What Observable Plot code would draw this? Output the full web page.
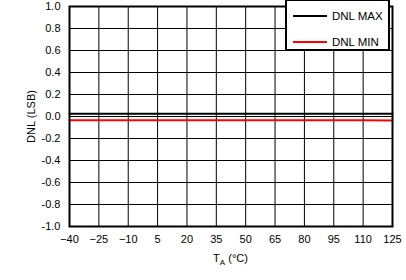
<!DOCTYPE html>
<html>
<head>
<meta charset="utf-8">
<script src="https://cdn.jsdelivr.net/npm/d3@7"></script>
<script src="https://cdn.jsdelivr.net/npm/@observablehq/plot@0.6"></script>
<style>
  html, body { margin: 0; padding: 0; background: #fff; }
  #wrap { position: relative; width: 406px; height: 280px; font-family: "Liberation Sans", Arial, sans-serif; }
  #legend { position: absolute; left: 285px; top: 0px; width: 105px; height: 51px; background: #fff; border: 2px solid #000; border-top-width: 1px; box-sizing: border-box; font-size: 11.5px; }
  .item { position: absolute; left: 6px; height: 12px; display: flex; align-items: center; }
  .sw { width: 34px; height: 0; border-top: 2px solid; margin-right: 5px; }
</style>
</head>
<body>
<div id="wrap"></div>
<script>
const temps = [-40, -25, -10, 5, 20, 35, 50, 65, 80, 95, 110, 125];
const dnlMax = [0.025, 0.025, 0.025, 0.025, 0.025, 0.025, 0.025, 0.025, 0.025, 0.025, 0.025, 0.025];
const dnlMin = [-0.035, -0.035, -0.035, -0.035, -0.035, -0.035, -0.035, -0.035, -0.035, -0.035, -0.035, -0.037];
const xTicks = temps;
const yTicks = [-1, -0.8, -0.6, -0.4, -0.2, 0, 0.2, 0.4, 0.6, 0.8, 1];
const series = [
  {name: "DNL MAX", color: "#000000", values: dnlMax},
  {name: "DNL MIN", color: "#ff0000", values: dnlMin}
];
const rows = series.flatMap(s => temps.map((t, i) => ({t, v: s.values[i], name: s.name, color: s.color})));
const yFmt = d => (d < 0 ? "-" : "") + Math.abs(d).toFixed(1);

const plot = Plot.plot({
  width: 406,
  height: 280,
  marginLeft: 69,
  marginRight: 14,
  marginTop: 6,
  marginBottom: 54,
  style: {fontFamily: "'Liberation Sans', Arial, sans-serif", fontSize: "11px", color: "#000", background: "#fff"},
  x: {domain: [-40, 125]},
  y: {domain: [-1, 1]},
  marks: [
    Plot.gridX(xTicks, {stroke: "#000", strokeOpacity: 1, strokeWidth: 1}),
    Plot.gridY(yTicks, {stroke: "#000", strokeOpacity: 1, strokeWidth: 1}),
    Plot.axisX(xTicks, {tickSize: 0, tickPadding: 9, label: null, fontSize: 11, tickFormat: d3.format("d")}),
    Plot.axisY(yTicks, {tickSize: 0, tickPadding: 9, tickFormat: yFmt, label: "DNL (LSB)", labelAnchor: "center", labelArrow: "none", labelOffset: 42, fontSize: 11}),
    Plot.line(rows, {x: "t", y: "v", z: "name", stroke: "color", strokeWidth: 2}),
    Plot.frame({stroke: "#000", strokeWidth: 2})
  ]
});

const wrap = document.getElementById("wrap");
wrap.appendChild(plot);

// x-axis label with subscript
const xs = plot.scale("x");
const cx = (xs.range[0] + xs.range[1]) / 2;
const svg = d3.select(plot);
const t = svg.append("text")
  .attr("x", cx).attr("y", 262)
  .attr("text-anchor", "middle")
  .attr("font-size", 11)
  .attr("fill", "#000");
t.append("tspan").text("T");
t.append("tspan").attr("font-size", 8).attr("dy", 3).text("A");
t.append("tspan").attr("dy", -3).text(" (°C)");

// legend
const lg = document.createElement("div");
lg.id = "legend";
series.forEach((s, i) => {
  const it = document.createElement("div");
  it.className = "item";
  it.style.top = (i === 0 ? 9 : 35) + "px";
  const sw = document.createElement("div");
  sw.className = "sw";
  sw.style.borderTopColor = s.color;
  it.appendChild(sw);
  const tx = document.createElement("span");
  tx.textContent = s.name;
  it.appendChild(tx);
  lg.appendChild(it);
});
wrap.appendChild(lg);
</script>
</body>
</html>
